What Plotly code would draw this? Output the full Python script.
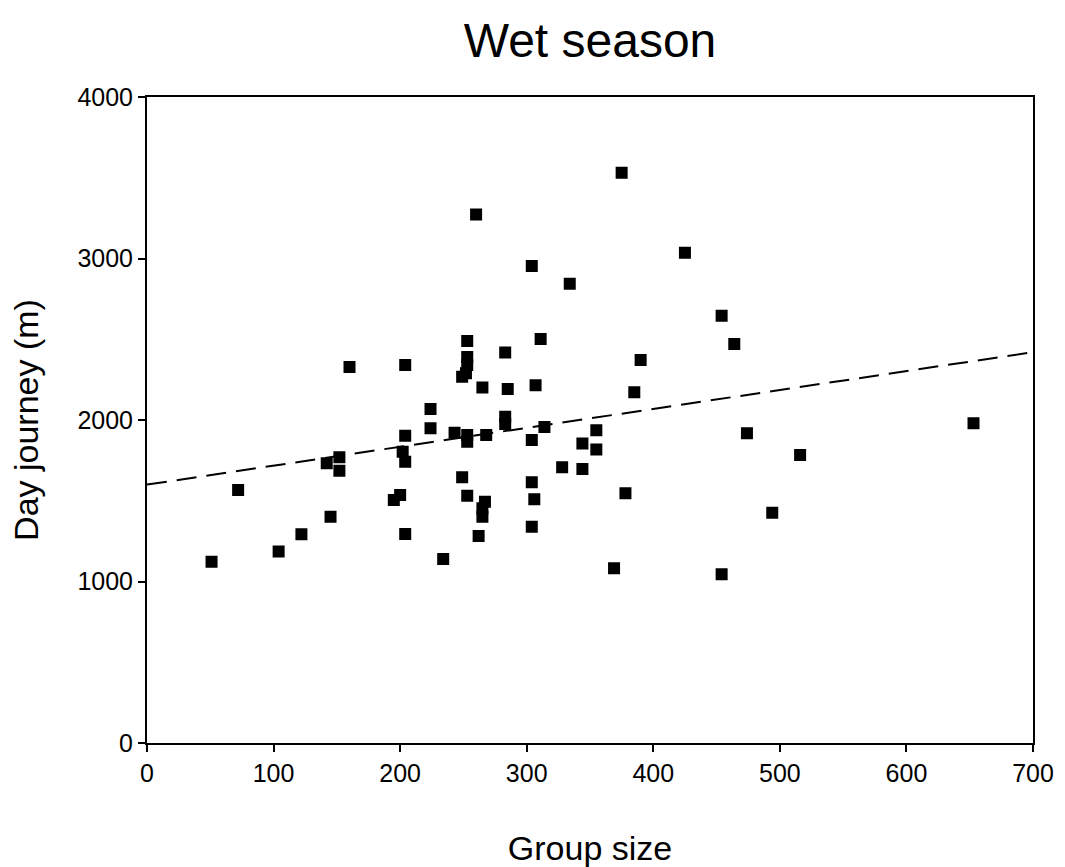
import plotly.graph_objects as go

# Group size (x) and day journey in metres (y)
group_size = [51, 72, 104, 122, 145, 142, 152, 152, 160, 195,
              200, 202, 204, 204, 204, 204, 224, 224, 234, 243,
              249, 249, 252, 253, 253, 253, 253, 253, 253, 262,
              265, 265, 267, 265, 268, 283, 283, 283, 285, 304,
              304, 304, 304, 306, 307, 311, 314, 328, 334, 344,
              344, 355, 355, 369, 375, 378, 385, 390, 260, 425,
              454, 454, 464, 474, 494, 516, 653]
day_journey = [1123, 1567, 1185, 1292, 1401, 1732, 1769, 1686, 2328, 1505,
               1536, 1804, 1742, 1903, 2341, 1294, 2068, 1949, 1139, 1921,
               1645, 2268, 2290, 2340, 2390, 2489, 1907, 1866, 1531, 1282,
               1401, 1453, 1494, 2202, 1907, 2418, 2020, 1975, 2192, 2954,
               1876, 1614, 1339, 1509, 2215, 2502, 1957, 1707, 2844, 1854,
               1697, 1936, 1818, 1082, 3531, 1546, 2172, 2371, 3273, 3036,
               2646, 1045, 2471, 1918, 1426, 1783, 1980]

# Regression line end points
fit_x = [0, 700]
fit_y = [1600, 2420]

x_ticks = [0, 100, 200, 300, 400, 500, 600, 700]
y_ticks = [0, 1000, 2000, 3000, 4000]

FONT = "Liberation Sans, Arial, sans-serif"

fig = go.Figure()
fig.add_trace(go.Scatter(
    x=fit_x, y=fit_y, mode="lines",
    line=dict(color="black", width=2, dash="20px,10px"),
    showlegend=False, hoverinfo="skip"))
fig.add_trace(go.Scatter(
    x=group_size, y=day_journey, mode="markers",
    marker=dict(symbol="square", size=10, color="black",
                line=dict(color="black", width=2)),
    showlegend=False))

fig.update_layout(
    width=1065, height=867,
    margin=dict(l=147, r=32, t=97, b=124, autoexpand=False),
    paper_bgcolor="white", plot_bgcolor="white",
    font=dict(family=FONT, color="black", size=25),
    title=dict(text="Wet season", x=0.5, xref="paper", xanchor="center",
               y=1 - 40 / 867, yref="container", yanchor="middle",
               font=dict(size=48, family=FONT, color="black")),
    xaxis=dict(range=[0, 700], tickvals=x_ticks, ticktext=[str(v) for v in x_ticks],
               showgrid=False, zeroline=False, showline=True, linecolor="black",
               linewidth=2, mirror=True, ticks="outside", ticklen=7, tickwidth=2,
               tickcolor="black", tickfont=dict(size=25),
               title=dict(text="Group size", standoff=51, font=dict(size=34))),
    yaxis=dict(range=[0, 4000], tickvals=y_ticks, ticktext=[str(v) for v in y_ticks],
               showgrid=False, zeroline=False, showline=True, linecolor="black",
               linewidth=2, mirror=True, ticks="outside", ticklen=7, tickwidth=2,
               tickcolor="black", tickfont=dict(size=25),
               title=dict(text="Day journey (m)", standoff=28, font=dict(size=34))),
)

fig.write_html("out.html")
